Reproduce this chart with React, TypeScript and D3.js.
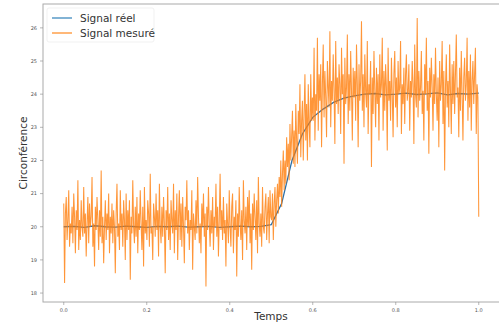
import React from 'react';
import * as d3 from 'd3';

// signal réel, pas de 0.025
const realTimes = d3.range(41).map(i => i / 40);
const realValues = [
  20.0, 20.01, 19.98, 20.03, 20.0, 19.99, 20.02, 20.0, 19.98, 20.01,
  20.0, 20.02, 19.99, 20.0, 20.01, 19.98, 20.0, 20.02, 20.0, 20.01,
  20.06, 20.7, 22.0, 22.8, 23.3, 23.55, 23.75, 23.88, 23.95, 24.0,
  24.02, 23.98, 24.0, 24.03, 23.99, 24.01, 24.04, 23.98, 24.02, 24.0, 24.03,
];

// signal mesuré (500 points)
const measuredValues = [
  20.7, 18.3, 20.4, 20.9, 19.6, 20.2, 21.1, 19.4, 20.1, 19.8,
  20.6, 19.5, 21.0, 20.3, 19.2, 20.5, 19.9, 21.4, 19.3, 20.2,
  19.6, 20.8, 20.0, 19.7, 21.2, 19.8, 20.4, 19.1, 20.1, 20.9,
  19.5, 20.7, 20.0, 20.3, 21.5, 19.4, 20.1, 18.8, 20.6, 19.9,
  20.9, 20.2, 19.3, 20.5, 19.7, 21.7, 19.5, 20.3, 18.9, 20.0,
  20.8, 19.6, 20.4, 19.9, 21.0, 19.2, 20.3, 19.8, 20.7, 19.5,
  20.5, 20.0, 18.6, 20.4, 21.3, 19.7, 20.1, 19.3, 21.1, 19.9,
  20.4, 19.4, 20.8, 20.2, 19.0, 21.0, 19.6, 20.5, 19.9, 20.8,
  18.4, 20.3, 19.8, 21.4, 20.0, 19.5, 20.6, 19.7, 20.9, 19.2,
  20.4, 19.9, 21.1, 20.1, 19.3, 20.6, 18.8, 21.2, 19.8, 20.2,
  19.6, 20.8, 20.4, 19.4, 21.6, 19.8, 20.0, 19.0, 20.7, 20.3,
  19.7, 21.0, 19.9, 20.5, 19.1, 21.3, 20.0, 19.5, 20.6, 19.7,
  20.9, 20.1, 18.6, 20.5, 19.9, 21.2, 19.6, 20.4, 19.3, 20.8,
  20.2, 19.8, 21.3, 19.2, 20.5, 19.9, 21.0, 19.0, 20.3, 21.1,
  19.6, 20.7, 19.4, 20.9, 20.0, 18.9, 20.6, 20.2, 21.4, 19.8,
  20.5, 19.3, 20.2, 19.9, 21.1, 18.7, 20.4, 20.0, 19.6, 20.8,
  19.8, 21.5, 20.3, 19.5, 20.1, 19.2, 20.7, 20.0, 21.0, 19.7,
  20.4, 18.2, 20.6, 19.9, 21.2, 20.1, 19.4, 20.5, 19.8, 20.9,
  19.3, 20.3, 20.0, 21.3, 19.7, 20.6, 19.1, 20.2, 21.6, 19.9,
  20.5, 19.6, 20.9, 19.8, 20.2, 18.8, 20.7, 20.1, 19.5, 21.1,
  20.0, 19.4, 20.6, 21.0, 19.2, 20.3, 19.9, 20.8, 18.5, 20.4,
  19.7, 21.2, 20.1, 19.6, 20.5, 19.0, 21.4, 20.2, 19.8, 20.6,
  19.3, 20.9, 20.0, 21.1, 19.5, 20.4, 18.7, 20.7, 19.9, 21.0,
  20.3, 19.6, 20.8, 19.2, 21.5, 20.1, 19.7, 20.4, 19.4, 21.2,
  20.0, 19.8, 20.6, 21.0, 19.6, 20.4, 20.9, 19.5, 21.1, 20.3,
  20.2, 21.0, 19.6, 20.7, 21.2, 20.0, 20.8, 21.3, 20.4, 21.5,
  20.9, 22.0, 20.6, 21.6, 22.3, 21.1, 22.0, 21.3, 22.7, 21.8,
  22.5, 21.4, 23.1, 22.0, 22.7, 23.5, 21.9, 22.9, 21.8, 23.7,
  22.6, 21.9, 23.5, 22.8, 24.3, 22.1, 23.2, 23.8, 22.0, 23.4,
  24.6, 22.6, 23.7, 22.0, 24.3, 23.1, 22.4, 24.6, 23.2, 23.9,
  23.2, 25.4, 22.6, 24.0, 23.5, 25.7, 22.9, 24.6, 23.8, 24.9,
  22.4, 24.3, 25.5, 23.3, 24.7, 23.9, 22.7, 25.0, 24.2, 23.6,
  25.9, 23.0, 24.4, 23.8, 25.2, 24.1, 22.5, 25.6, 23.7, 24.5,
  23.4, 24.9, 24.3, 22.8, 25.4, 24.0, 24.6, 21.9, 25.1, 23.7,
  24.2, 25.8, 23.1, 24.6, 23.5, 25.3, 24.1, 22.6, 24.8, 23.9,
  24.7, 23.2, 25.5, 24.3, 22.4, 24.9, 23.8, 24.4, 26.2, 23.5,
  24.6, 23.0, 25.2, 24.1, 23.6, 25.6, 22.8, 24.3, 24.0, 25.0,
  21.8, 24.5, 23.4, 25.3, 24.1, 23.0, 24.8, 23.7, 24.6, 22.6,
  25.2, 23.9, 24.3, 25.7, 22.9, 24.7, 23.5, 24.9, 24.2, 22.3,
  25.4, 23.8, 24.4, 23.2, 25.1, 24.0, 22.7, 24.6, 25.3, 23.6,
  24.5, 23.0, 25.0, 24.0, 24.2, 25.6, 22.8, 24.3, 23.7, 24.8,
  23.1, 24.6, 25.2, 23.8, 24.1, 24.9, 22.9, 24.4, 23.9, 25.0,
  24.3, 22.5, 25.5, 24.0, 23.6, 26.3, 23.3, 24.7, 23.8, 24.2,
  25.3, 23.4, 24.1, 22.6, 24.9, 24.0, 25.7, 23.5, 24.4, 22.2,
  24.8, 23.9, 25.1, 24.2, 22.9, 24.6, 23.7, 25.4, 24.0, 23.2,
  24.5, 22.4, 25.0, 23.8, 24.3, 25.6, 23.1, 24.7, 21.7, 24.2,
  25.2, 23.6, 24.4, 23.0, 25.5, 24.1, 22.8, 24.9, 23.7, 25.0,
  23.4, 24.6, 25.8, 23.9, 24.2, 22.7, 24.8, 23.5, 25.3, 24.0,
  22.6, 24.5, 25.1, 23.8, 24.3, 25.7, 23.2, 24.7, 23.6, 25.2,
  22.9, 24.4, 25.0, 23.7, 24.6, 25.4, 22.8, 24.3, 23.9, 20.3,
];
const measuredTimes = measuredValues.map((_, i) => i / (measuredValues.length - 1));

const xTicks = [0, 0.2, 0.4, 0.6, 0.8, 1.0];
const yTicks = [18, 19, 20, 21, 22, 23, 24, 25, 26];
const legendLabels = ['Signal réel', 'Signal mesuré'];

const W = 499;
const H = 323;
const margin = { top: 4, right: 0, bottom: 21, left: 43 };
const font = 'DejaVu Sans, sans-serif';

export default function App() {
  const x = d3.scaleLinear().domain([-0.05, 1.05]).range([margin.left, margin.left + 456.5]);
  const y = d3.scaleLinear().domain([17.73, 26.72]).range([H - margin.bottom, margin.top]);

  const line = d3.line<[number, number]>()
    .x(d => x(d[0]))
    .y(d => y(d[1]));

  const realPath = line(realTimes.map((t, i) => [t, realValues[i]]));
  const measuredPath = line(measuredTimes.map((t, i) => [t, measuredValues[i]]));

  const x0 = margin.left;
  const x1 = margin.left + 456.5;
  const y0 = margin.top;
  const y1 = H - margin.bottom;

  return (
    <svg width={W} height={H} style={{ position: 'absolute', left: 0, top: 0, background: '#fff' }}>
      <defs>
        <clipPath id="plot">
          <rect x={x0} y={y0} width={x1 - x0} height={y1 - y0} />
        </clipPath>
      </defs>
      <g clipPath="url(#plot)">
        <path d={realPath ?? ''} fill="none" stroke="#2b6fa8" strokeWidth={1.3} />
        <path d={measuredPath ?? ''} fill="none" stroke="#ff7f0e" strokeWidth={1.05} strokeOpacity={0.82} />
      </g>

      {/* cadre */}
      <rect x={x0} y={y0} width={x1 - x0} height={y1 - y0} fill="none" stroke="#aaa" strokeWidth={1} />

      {/* axe y */}
      {yTicks.map(v => (
        <g key={v} transform={`translate(${x0},${y(v)})`}>
          <line x1={-3} x2={0} stroke="#888" strokeWidth={0.6} />
          <text x={-6} dy="0.35em" textAnchor="end" fontSize={5} fill="#555" fontFamily={font}>{v}</text>
        </g>
      ))}
      {/* axe x */}
      {xTicks.map(v => (
        <g key={v} transform={`translate(${x(v)},${y1})`}>
          <line y1={0} y2={3} stroke="#888" strokeWidth={0.6} />
          <text y={10} textAnchor="middle" fontSize={5} fill="#555" fontFamily={font}>{v.toFixed(1)}</text>
        </g>
      ))}

      <text x={271} y={320} textAnchor="middle" fontSize={10.5} fill="#333" fontFamily={font}>Temps</text>
      <text transform={`translate(27,${(y0 + y1) / 2}) rotate(-90)`} textAnchor="middle" fontSize={10.5} fill="#333" fontFamily={font}>Circonférence</text>

      {/* légende */}
      <rect x={47} y={8} width={107} height={34} rx={2} fill="#fff" fillOpacity={0.8} stroke="#eee" strokeWidth={0.8} />
      {legendLabels.map((label, i) => (
        <g key={label} transform={`translate(52,${18 + i * 15})`}>
          <line x1={0} x2={20} stroke={i === 0 ? '#1f77b4' : '#ff7f0e'} strokeWidth={1.4} strokeOpacity={0.8} />
          <text x={28} dy="0.35em" fontSize={10.5} fill="#333" fontFamily={font}>{label}</text>
        </g>
      ))}
    </svg>
  );
}
